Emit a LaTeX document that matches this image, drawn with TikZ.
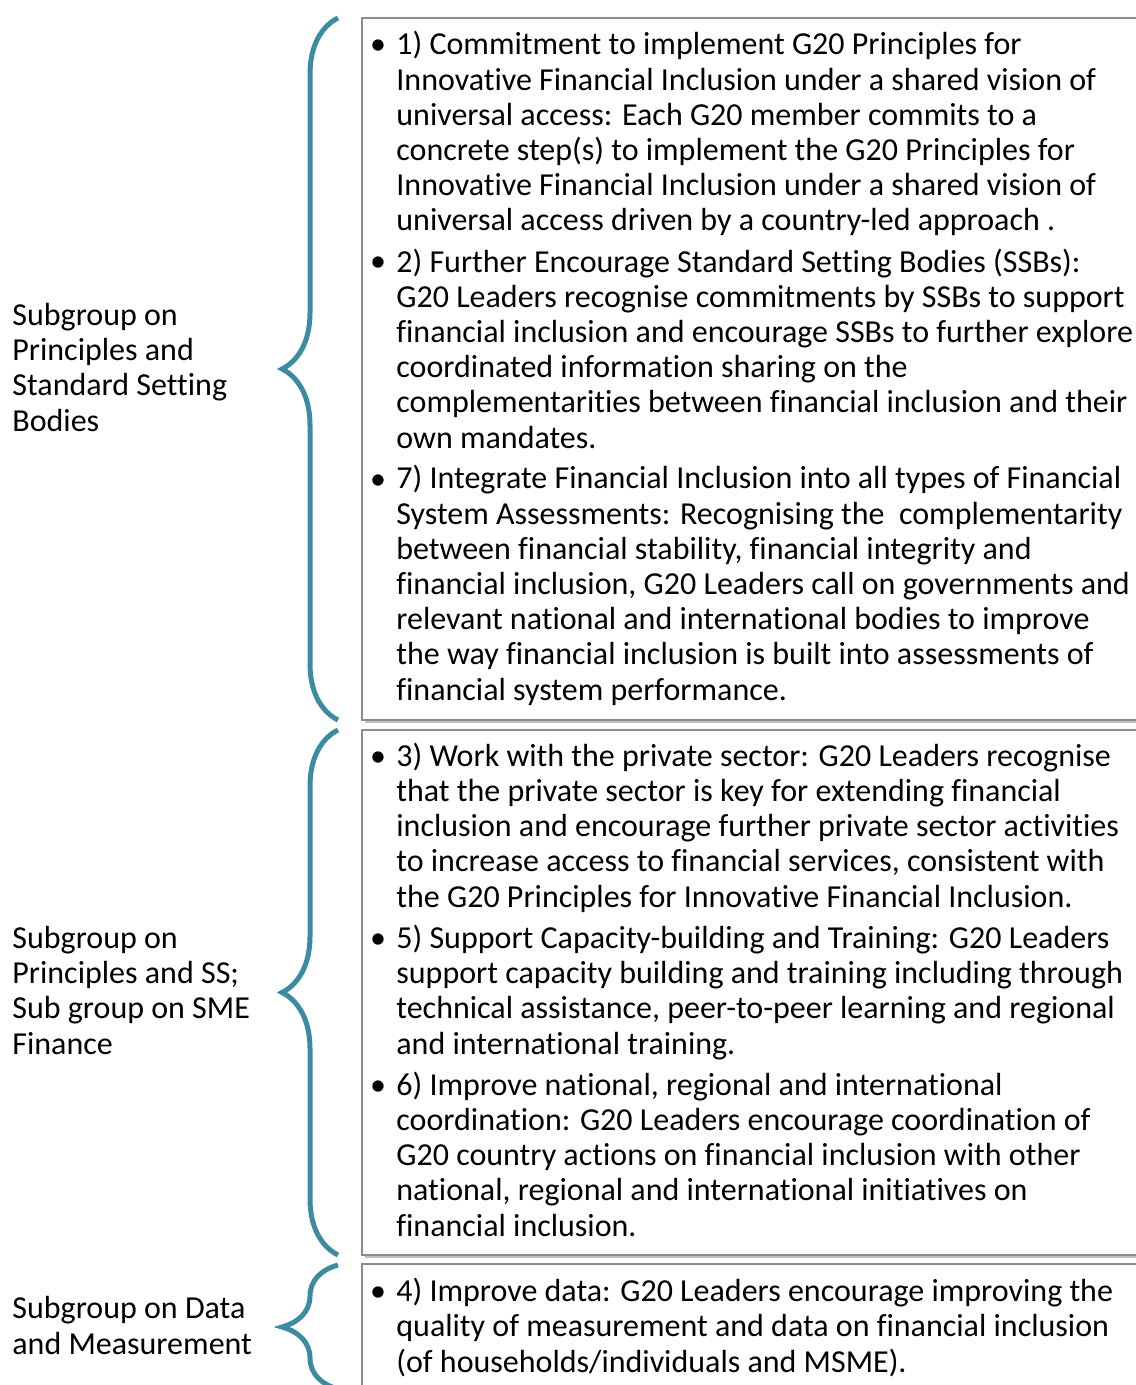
\documentclass[tikz,border=0pt]{standalone}
\usepackage{fontspec}
\setmainfont{Carlito}[Ligatures=CommonOff]
\usetikzlibrary{decorations.pathreplacing}
\definecolor{bracecol}{HTML}{3B8CA0}
\definecolor{boxline}{HTML}{8C8C8C}
\tikzset{
  itemtext/.style={anchor=base west, align=left, inner sep=0pt, font=\fontsize{16}{17.6}\selectfont},
  grouptext/.style={anchor=base west, align=left, inner sep=0pt, font=\fontsize{16}{17.6}\selectfont},
  dot/.style={anchor=base, inner sep=0pt, font=\fontsize{16}{17.6}\selectfont},
  groupbrace/.style={draw=bracecol, line width=2.5pt, decorate, decoration={brace, amplitude=28pt}},
  panel/.style={draw=boxline, line width=0.8pt, fill=white},
  panelshadow/.style={fill=black!25}
}
\begin{document}
\begin{tikzpicture}[x=0.5pt, y=-0.5pt]
	\useasboundingbox (0,0) rectangle (1135,1385);
	% boxes
	\fill[panelshadow] (365,21) rectangle (1150,723);
	\draw[panel] (362,18) rectangle (1150,720);
	\fill[panelshadow] (365,733) rectangle (1150,1258);
	\draw[panel] (362,730) rectangle (1150,1255);
	\fill[panelshadow] (365,1267) rectangle (1150,1400);
	\draw[panel] (362,1264) rectangle (1150,1400);
	% braces
	\draw[groupbrace] (338,720) -- (338,18);
	\draw[groupbrace] (338,1255) -- (338,730);
	\draw[groupbrace] (338,1389) -- (338,1265);
	% group labels (placed by their last line)
	\node[grouptext] (grpA) at (12,431) {Subgroup on\\Principles and\\Standard Setting\\Bodies};
	\node[grouptext] (grpB) at (12,1054) {Subgroup on\\Principles and SS;\\Sub group on SME\\Finance};
	\node[grouptext] (grpC) at (12,1354) {Subgroup on Data\\and Measurement};
	% bullets
	\foreach \y [count=\i] in {55,272,489,766,948,1095,1301}
		\node[dot] (dot\i) at (378,\y) {•};
	% items (placed by their last line)
	\node[itemtext] (item1) at (396,231) {1) Commitment to implement G20 Principles for\\Innovative Financial Inclusion under a shared vision of\\universal access: Each G20 member commits to a\\concrete step(s) to implement the G20 Principles for\\Innovative Financial Inclusion under a shared vision of\\universal access driven by a country-led approach .};
	\node[itemtext] (item2) at (396,448) {2) Further Encourage Standard Setting Bodies (SSBs):\\G20 Leaders recognise commitments by SSBs to support\\financial inclusion and encourage SSBs to further explore\\coordinated information sharing on the\\complementarities between financial inclusion and their\\own mandates.};
	\node[itemtext] (item7) at (396,700) {7) Integrate Financial Inclusion into all types of Financial\\System Assessments: Recognising the~ complementarity\\between financial stability, financial integrity and\\financial inclusion, G20 Leaders call on governments and\\relevant national and international bodies to improve\\the way financial inclusion is built into assessments of\\financial system performance.};
	\node[itemtext] (item3) at (396,907) {3) Work with the private sector: G20 Leaders recognise\\that the private sector is key for extending financial\\inclusion and encourage further private sector activities\\to increase access to financial services, consistent with\\the G20 Principles for Innovative Financial Inclusion.};
	\node[itemtext] (item5) at (396,1054) {5) Support Capacity-building and Training: G20 Leaders\\support capacity building and training including through\\technical assistance, peer-to-peer learning and regional\\and international training.};
	\node[itemtext] (item6) at (396,1236) {6) Improve national, regional and international\\coordination: G20 Leaders encourage coordination of\\G20 country actions on financial inclusion with other\\national, regional and international initiatives on\\financial inclusion.};
	\node[itemtext] (item4) at (396,1372) {4) Improve data: G20 Leaders encourage improving the\\quality of measurement and data on financial inclusion\\(of households/individuals and MSME).};
\end{tikzpicture}
\end{document}
